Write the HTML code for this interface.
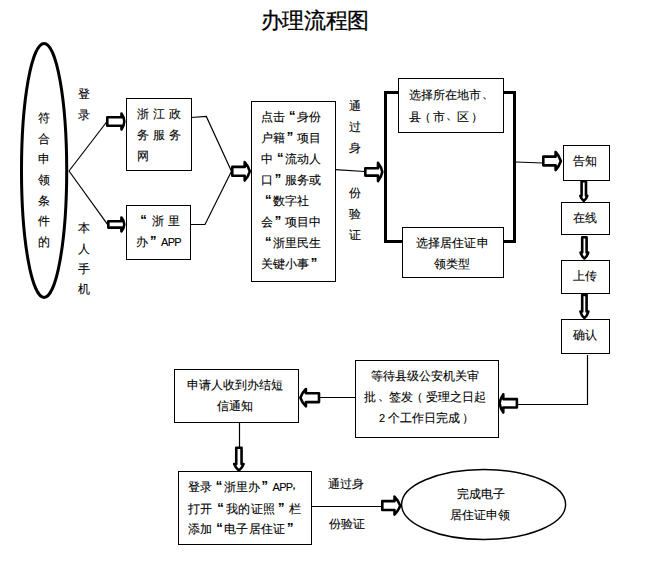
<!DOCTYPE html>
<html><head><meta charset="utf-8"><style>
html,body{margin:0;padding:0;background:#fff;width:651px;height:583px;overflow:hidden}
svg{position:absolute;left:0;top:0}
.t{position:absolute;font-family:"Liberation Sans",sans-serif;font-size:12px;line-height:12px;color:#000;white-space:nowrap;-webkit-text-stroke:0.1px #000}
.t i{display:inline-block;font-style:normal;text-align:center}
.t i.q{font-weight:bold;font-size:13px;position:relative;top:-1px}
.t b.a{font-weight:normal;font-size:11px;letter-spacing:-0.7px;display:inline-block;margin:0 1px 0 1px}
</style></head><body>
<svg width="651" height="583" viewBox="0 0 651 583">
<ellipse cx="44.1" cy="170.4" rx="22.6" ry="127" fill="none" stroke="#000" stroke-width="3"/>
<ellipse cx="483.6" cy="504.5" rx="82" ry="35" fill="#fff" stroke="#000" stroke-width="1.4"/>
<path d="M69,171 L107,121.5" fill="none" stroke="#000" stroke-width="1.2"/>
<path d="M69,171 L107.5,224.4" fill="none" stroke="#000" stroke-width="1.2"/>
<path d="M191,117.5 L206.3,116.5 L231.5,171.3" fill="none" stroke="#000" stroke-width="1.2"/>
<path d="M190.5,224.5 L205,224.5 L231.5,171.3" fill="none" stroke="#000" stroke-width="1.2"/>
<path d="M335.5,169.7 L364.5,171.5" fill="none" stroke="#000" stroke-width="1.2"/>
<path d="M398.5,92.5 L385.5,92.5 L385.5,241.5 L402.5,241.5" fill="none" stroke="#000" stroke-width="3"/>
<path d="M503.5,92.5 L514.5,92.5 L514.5,241.5 L503.5,241.5" fill="none" stroke="#000" stroke-width="3"/>
<path d="M516,162 L542.5,163" fill="none" stroke="#000" stroke-width="1.2"/>
<path d="M587.5,355 L587.5,404.5 L518,404.5" fill="none" stroke="#000" stroke-width="1.2"/>
<path d="M355.5,397.5 L320,397.5" fill="none" stroke="#000" stroke-width="1.2"/>
<path d="M239.5,422 L239.5,447" fill="none" stroke="#000" stroke-width="1.2"/>
<path d="M311,506.5 L381.5,506.5" fill="none" stroke="#000" stroke-width="1.2"/>
<rect x="126.50" y="98.50" width="65.00" height="72.00" fill="#fff" stroke="#000" stroke-width="1"/>
<rect x="126.50" y="205.50" width="64.00" height="54.00" fill="#fff" stroke="#000" stroke-width="1"/>
<rect x="251.50" y="101.50" width="84.00" height="180.00" fill="#fff" stroke="#000" stroke-width="1"/>
<rect x="398.50" y="78.50" width="105.00" height="54.00" fill="#fff" stroke="#000" stroke-width="1"/>
<rect x="402.50" y="227.50" width="101.00" height="50.00" fill="#fff" stroke="#000" stroke-width="1"/>
<rect x="563.50" y="145.50" width="46.00" height="35.00" fill="#fff" stroke="#000" stroke-width="1"/>
<rect x="561.50" y="202.50" width="48.00" height="32.00" fill="#fff" stroke="#000" stroke-width="1"/>
<rect x="561.50" y="260.50" width="48.00" height="33.00" fill="#fff" stroke="#000" stroke-width="1"/>
<rect x="561.50" y="319.50" width="48.00" height="34.00" fill="#fff" stroke="#000" stroke-width="1"/>
<rect x="355.50" y="360.50" width="143.00" height="77.00" fill="#fff" stroke="#000" stroke-width="1"/>
<rect x="174.50" y="369.50" width="124.00" height="53.00" fill="#fff" stroke="#000" stroke-width="1"/>
<rect x="178.50" y="471.50" width="133.00" height="73.00" fill="#fff" stroke="#000" stroke-width="1"/>
<path d="M107.30,117.30 L121.50,117.30 L121.50,113.55 Q124.05,117.12 124.33,121.50 Q124.05,125.88 121.50,129.45 L121.50,125.70 L107.30,125.70Z" fill="#fff" stroke="#000" stroke-width="2.6" stroke-linejoin="round"/>
<path d="M108.30,221.20 L121.40,221.20 L121.40,217.45 Q123.97,220.46 124.33,224.40 Q123.97,228.34 121.40,231.35 L121.40,227.60 L108.30,227.60Z" fill="#fff" stroke="#000" stroke-width="2.6" stroke-linejoin="round"/>
<path d="M232.30,166.90 L244.70,166.90 L244.70,162.10 Q248.31,166.12 249.83,171.30 Q248.31,176.48 244.70,180.50 L244.70,175.70 L232.30,175.70Z" fill="#fff" stroke="#000" stroke-width="2.6" stroke-linejoin="round"/>
<path d="M365.30,168.20 L378.00,168.20 L378.00,162.70 Q381.25,166.79 382.33,171.90 Q381.25,177.01 378.00,181.10 L378.00,175.60 L365.30,175.60Z" fill="#fff" stroke="#000" stroke-width="2.6" stroke-linejoin="round"/>
<path d="M543.30,156.65 L555.60,156.65 L555.60,152.00 Q559.25,155.90 560.83,161.00 Q559.25,166.10 555.60,170.00 L555.60,165.35 L543.30,165.35Z" fill="#fff" stroke="#000" stroke-width="2.6" stroke-linejoin="round"/>
<path d="M581.60,181.30 L581.60,195.80 L580.30,195.80 Q581.06,199.00 583.80,200.83 Q586.54,199.00 587.30,195.80 L586.00,195.80 L586.00,181.30Z" fill="#fff" stroke="#000" stroke-width="2.6" stroke-linejoin="round"/>
<path d="M582.20,237.30 L582.20,252.50 L580.60,252.50 Q581.48,256.15 584.40,258.53 Q587.32,256.15 588.20,252.50 L586.60,252.50 L586.60,237.30Z" fill="#fff" stroke="#000" stroke-width="2.6" stroke-linejoin="round"/>
<path d="M582.20,294.90 L582.20,311.50 L580.40,311.50 Q581.37,315.43 584.40,318.13 Q587.43,315.43 588.40,311.50 L586.60,311.50 L586.60,294.90Z" fill="#fff" stroke="#000" stroke-width="2.6" stroke-linejoin="round"/>
<path d="M516.90,399.10 L503.30,399.10 L503.30,394.20 Q500.32,398.29 499.57,403.30 Q500.32,408.31 503.30,412.40 L503.30,407.50 L516.90,407.50Z" fill="#fff" stroke="#000" stroke-width="2.6" stroke-linejoin="round"/>
<path d="M319.00,393.30 L305.90,393.30 L305.90,389.00 Q302.12,392.71 300.37,397.70 Q302.12,402.69 305.90,406.40 L305.90,402.10 L319.00,402.10Z" fill="#fff" stroke="#000" stroke-width="2.6" stroke-linejoin="round"/>
<path d="M236.25,447.80 L236.25,464.00 L234.20,464.00 Q235.58,467.92 238.90,470.43 Q242.22,467.92 243.60,464.00 L241.55,464.00 L241.55,447.80Z" fill="#fff" stroke="#000" stroke-width="2.6" stroke-linejoin="round"/>
<path d="M382.30,501.15 L394.50,501.15 L394.50,496.60 Q398.38,500.46 400.23,505.60 Q398.38,510.74 394.50,514.60 L394.50,510.05 L382.30,510.05Z" fill="#fff" stroke="#000" stroke-width="2.6" stroke-linejoin="round"/>
</svg>
<div class="t" style="left:38px;top:112.2px;"><i style="width:12px">符</i></div>
<div class="t" style="left:38px;top:132.8px;"><i style="width:12px">合</i></div>
<div class="t" style="left:38px;top:153.4px;"><i style="width:12px">申</i></div>
<div class="t" style="left:38px;top:174.0px;"><i style="width:12px">领</i></div>
<div class="t" style="left:38px;top:194.60000000000002px;"><i style="width:12px">条</i></div>
<div class="t" style="left:38px;top:215.2px;"><i style="width:12px">件</i></div>
<div class="t" style="left:38px;top:235.8px;"><i style="width:12px">的</i></div>
<div class="t" style="left:77.6px;top:88.2px;"><i style="width:12px">登</i></div>
<div class="t" style="left:77.6px;top:108.80000000000001px;"><i style="width:12px">录</i></div>
<div class="t" style="left:77.6px;top:222.4px;"><i style="width:12px">本</i></div>
<div class="t" style="left:77.6px;top:242.5px;"><i style="width:12px">人</i></div>
<div class="t" style="left:77.6px;top:262.6px;"><i style="width:12px">手</i></div>
<div class="t" style="left:77.6px;top:282.7px;"><i style="width:12px">机</i></div>
<div class="t" style="left:135px;top:108px;"><i style="width:16px">浙</i><i style="width:16px">江</i><i style="width:16px">政</i></div>
<div class="t" style="left:135px;top:129.3px;"><i style="width:16px">务</i><i style="width:16px">服</i><i style="width:16px">务</i></div>
<div class="t" style="left:135px;top:149.9px;"><i style="width:16px">网</i></div>
<div class="t" style="left:134px;top:215px;"><i class="q" style="width:16px;text-indent:3px">“</i><i style="width:16px">浙</i><i style="width:16px">里</i></div>
<div class="t" style="left:136px;top:236px;"><i style="width:12px">办</i><i class="q" style="width:12px;text-indent:-1.5px">”</i><b class="a">APP</b></div>
<div class="t" style="left:260.8px;top:110.8px;"><i style="width:12px">点</i><i style="width:12px">击</i><i class="q" style="width:12px;text-indent:3px">“</i><i style="width:12px">身</i><i style="width:12px">份</i></div>
<div class="t" style="left:260.8px;top:131.8px;"><i style="width:12px">户</i><i style="width:12px">籍</i><i class="q" style="width:12px;text-indent:-1.5px">”</i><i style="width:12px">项</i><i style="width:12px">目</i></div>
<div class="t" style="left:260.8px;top:152.8px;"><i style="width:12px">中</i><i class="q" style="width:12px;text-indent:3px">“</i><i style="width:12px">流</i><i style="width:12px">动</i><i style="width:12px">人</i></div>
<div class="t" style="left:260.8px;top:173.8px;"><i style="width:12px">口</i><i class="q" style="width:12px;text-indent:-1.5px">”</i><i style="width:12px">服</i><i style="width:12px">务</i><i style="width:12px">或</i></div>
<div class="t" style="left:260.8px;top:194.8px;"><i class="q" style="width:12px;text-indent:3px">“</i><i style="width:12px">数</i><i style="width:12px">字</i><i style="width:12px">社</i></div>
<div class="t" style="left:260.8px;top:215.8px;"><i style="width:12px">会</i><i class="q" style="width:12px;text-indent:-1.5px">”</i><i style="width:12px">项</i><i style="width:12px">目</i><i style="width:12px">中</i></div>
<div class="t" style="left:260.8px;top:236.8px;"><i class="q" style="width:12px;text-indent:3px">“</i><i style="width:12px">浙</i><i style="width:12px">里</i><i style="width:12px">民</i><i style="width:12px">生</i></div>
<div class="t" style="left:260.8px;top:257.8px;"><i style="width:12px">关</i><i style="width:12px">键</i><i style="width:12px">小</i><i style="width:12px">事</i><i class="q" style="width:12px;text-indent:-1.5px">”</i></div>
<div class="t" style="left:348.9px;top:100.3px;"><i style="width:12px">通</i></div>
<div class="t" style="left:348.9px;top:121.3px;"><i style="width:12px">过</i></div>
<div class="t" style="left:348.9px;top:142.3px;"><i style="width:12px">身</i></div>
<div class="t" style="left:348.9px;top:187.2px;"><i style="width:12px">份</i></div>
<div class="t" style="left:348.9px;top:208.2px;"><i style="width:12px">验</i></div>
<div class="t" style="left:348.9px;top:229.2px;"><i style="width:12px">证</i></div>
<div class="t" style="left:409px;top:89px;"><i style="width:12px">选</i><i style="width:12px">择</i><i style="width:12px">所</i><i style="width:12px">在</i><i style="width:12px">地</i><i style="width:12px">市</i><i style="width:12px;position:relative;left:1.2px;top:-1.5px">、</i></div>
<div class="t" style="left:409px;top:110.9px;"><i style="width:12px">县</i><i style="width:12px;position:relative;left:-1.8px">（</i><i style="width:12px">市</i><i style="width:12px;position:relative;left:1.2px;top:-1.5px">、</i><i style="width:12px">区</i><i style="width:12px;position:relative;left:2px">）</i></div>
<div class="t" style="left:416px;top:237.2px;"><i style="width:12.12px">选</i><i style="width:12.12px">择</i><i style="width:12.12px">居</i><i style="width:12.12px">住</i><i style="width:12.12px">证</i><i style="width:12.12px">申</i></div>
<div class="t" style="left:433.8px;top:257.9px;"><i style="width:12px">领</i><i style="width:12px">类</i><i style="width:12px">型</i></div>
<div class="t" style="left:573px;top:155px;"><i style="width:12px">告</i><i style="width:12px">知</i></div>
<div class="t" style="left:573px;top:212px;"><i style="width:12px">在</i><i style="width:12px">线</i></div>
<div class="t" style="left:573px;top:270px;"><i style="width:12px">上</i><i style="width:12px">传</i></div>
<div class="t" style="left:573px;top:329px;"><i style="width:12px">确</i><i style="width:12px">认</i></div>
<div class="t" style="left:371.2px;top:370px;"><i style="width:12px">等</i><i style="width:12px">待</i><i style="width:12px">县</i><i style="width:12px">级</i><i style="width:12px">公</i><i style="width:12px">安</i><i style="width:12px">机</i><i style="width:12px">关</i><i style="width:12px">审</i></div>
<div class="t" style="left:364.3px;top:391px;"><i style="width:12.22px">批</i><i style="width:12.22px;position:relative;left:1.2px;top:-1.5px">、</i><i style="width:12.22px">签</i><i style="width:12.22px">发</i><i style="width:12.22px;position:relative;left:-1.8px">（</i><i style="width:12.22px">受</i><i style="width:12.22px">理</i><i style="width:12.22px">之</i><i style="width:12.22px">日</i><i style="width:12.22px">起</i></div>
<div class="t" style="left:378px;top:411.8px;"><b class="a">2</b><i style="width:3px"></i><i style="width:12px">个</i><i style="width:12px">工</i><i style="width:12px">作</i><i style="width:12px">日</i><i style="width:12px">完</i><i style="width:12px">成</i><i style="width:12px;position:relative;left:2px">）</i></div>
<div class="t" style="left:187px;top:379.4px;"><i style="width:12px">申</i><i style="width:12px">请</i><i style="width:12px">人</i><i style="width:12px">收</i><i style="width:12px">到</i><i style="width:12px">办</i><i style="width:12px">结</i><i style="width:12px">短</i></div>
<div class="t" style="left:216.8px;top:399.8px;"><i style="width:12px">信</i><i style="width:12px">通</i><i style="width:12px">知</i></div>
<div class="t" style="left:187.5px;top:481.4px;"><i style="width:12px">登</i><i style="width:12px">录</i><i class="q" style="width:12px;text-indent:3px">“</i><i style="width:12px">浙</i><i style="width:12px">里</i><i style="width:12px">办</i><i class="q" style="width:12px;text-indent:-1.5px">”</i><b class="a">APP</b><i style="width:12px;text-align:left;margin-left:-5px;position:relative;top:-2px">，</i></div>
<div class="t" style="left:187.5px;top:503px;"><i style="width:12.6px">打</i><i style="width:12.6px">开</i><i class="q" style="width:12.6px;text-indent:3px">“</i><i style="width:12.6px">我</i><i style="width:12.6px">的</i><i style="width:12.6px">证</i><i style="width:12.6px">照</i><i class="q" style="width:12.6px;text-indent:-1.5px">”</i><i style="width:12.6px">栏</i></div>
<div class="t" style="left:187.5px;top:523.2px;"><i style="width:12.2px">添</i><i style="width:12.2px">加</i><i class="q" style="width:12.2px;text-indent:3px">“</i><i style="width:12.2px">电</i><i style="width:12.2px">子</i><i style="width:12.2px">居</i><i style="width:12.2px">住</i><i style="width:12.2px">证</i><i class="q" style="width:12.2px;text-indent:-1.5px">”</i></div>
<div class="t" style="left:327.6px;top:478.3px;"><i style="width:12px">通</i><i style="width:12px">过</i><i style="width:12px">身</i></div>
<div class="t" style="left:329.1px;top:517.6px;"><i style="width:12px">份</i><i style="width:12px">验</i><i style="width:12px">证</i></div>
<div class="t" style="left:456.8px;top:488.4px;"><i style="width:12px">完</i><i style="width:12px">成</i><i style="width:12px">电</i><i style="width:12px">子</i></div>
<div class="t" style="left:450px;top:509.3px;"><i style="width:12px">居</i><i style="width:12px">住</i><i style="width:12px">证</i><i style="width:12px">申</i><i style="width:12px">领</i></div>
<div class="t" style="left:260.6px;top:8.6px;font-size:22px;letter-spacing:-0.35px;line-height:24px;-webkit-text-stroke:0.3px #000">办理流程图</div>
</body></html>
